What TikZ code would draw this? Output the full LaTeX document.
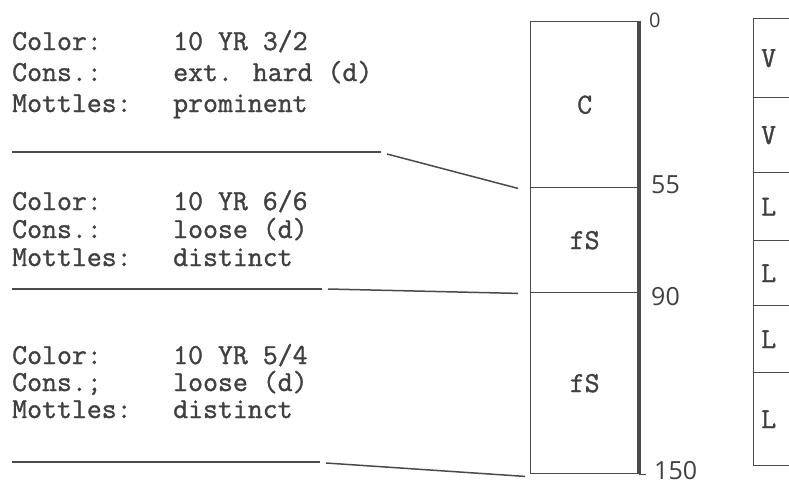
\documentclass[tikz,border=0pt]{standalone}
\usepackage{fontspec}
\newfontfamily\numfont{Open Sans}
\newfontfamily\twfont[RawFeature={embolden=1.2}]{Latin Modern Mono}
\definecolor{ink}{HTML}{404040}
\definecolor{lineink}{HTML}{4A4A4A}
\begin{document}
\begin{tikzpicture}[x=1pt,y=-1pt,
  tw/.style={font=\twfont\fontsize{29}{31}\selectfont, text=ink, inner sep=0pt, anchor=base west},
  num/.style={font=\numfont\fontsize{25}{28}\selectfont, text=ink, inner sep=0pt, anchor=west},
  layer/.style={draw=lineink, line width=1.4pt, minimum width=108pt, anchor=north west, inner sep=0pt,
     font=\twfont\fontsize{29}{31}\selectfont, text=ink},
  rowbox/.style={draw=lineink, line width=1.4pt, minimum width=70pt, anchor=north west, inner sep=0pt},
  rowtext/.style={font=\twfont\fontsize{29}{31}\selectfont, text=ink, inner sep=0pt, anchor=west},
  rule/.style={draw=lineink, line width=1.5pt},
  conn/.style={draw=lineink, line width=1.5pt}
]
\useasboundingbox[fill=white] (0,0) rectangle (789,485);

% text block 1
\node[tw] (a1) at (12,50) {Color:};
\node[tw] (a2) at (12,81) {Cons.:};
\node[tw] (a3) at (12,112) {Mottles:};
\node[tw] (av1) at (173,50) {10 YR 3/2};
\node[tw] (av2) at (173,81) {ext. hard (d)};
\node[tw] (av3) at (173,112) {prominent};
% text block 2
\node[tw] (b1) at (12,210) {Color:};
\node[tw] (b2) at (12,238) {Cons.:};
\node[tw] (b3) at (12,266) {Mottles:};
\node[tw] (bv1) at (173,210) {10 YR 6/6};
\node[tw] (bv2) at (173,238) {loose (d)};
\node[tw] (bv3) at (173,266) {distinct};
% text block 3
\node[tw] (c1) at (12,364) {Color:};
\node[tw] (c2) at (12,391) {Cons.;};
\node[tw] (c3) at (12,418) {Mottles:};
\node[tw] (cv1) at (173,364) {10 YR 5/4};
\node[tw] (cv2) at (173,391) {loose (d)};
\node[tw] (cv3) at (173,418) {distinct};

% profile column
\node[layer, minimum height=166pt] (hC) at (530,21) {C};
\node[layer, minimum height=105pt] (hfSa) at (530,187) {fS};
\node[layer, minimum height=181pt] (hfSb) at (530,292) {fS};
\draw[lineink, line width=4pt] (hC.north east) -- (hfSb.south east);
\coordinate (bx) at ([xshift=7]hfSb.south east);
\draw[lineink, line width=1.4pt] (hfSb.south east) -- (bx);

% depth labels
\node[num, font=\numfont\fontsize{20}{22}\selectfont] (d0) at (649,20) {0};
\node[num] (d55) at (651,185) {55};
\node[num] (d90) at (651,297) {90};
\node[num] (d150) at (654,471) {150};

% right column
\node[rowbox, minimum height=79pt] (r1) at (753,18) {};
\node[rowbox, minimum height=75pt] (r2) at (753,97) {};
\node[rowbox, minimum height=68pt] (r3) at (753,172) {};
\node[rowbox, minimum height=65pt] (r4) at (753,240) {};
\node[rowbox, minimum height=67pt] (r5) at (753,305) {};
\node[rowbox, minimum height=93pt] (r6) at (753,372) {};
\node[rowtext] (t1) at ([xshift=8]r1.west) {V};
\node[rowtext] (t2) at ([xshift=8]r2.west) {V};
\node[rowtext] (t3) at ([xshift=8]r3.west) {L};
\node[rowtext] (t4) at ([xshift=8]r4.west) {L};
\node[rowtext] (t5) at ([xshift=8]r5.west) {L};
\node[rowtext] (t6) at ([xshift=8]r6.west) {L};

% separators and connectors
\coordinate (s1a) at (12,152);
\coordinate (s1b) at (381,152);
\coordinate (s1c) at (387,154);
\coordinate (s2a) at (12,289);
\coordinate (s2b) at (322,289);
\coordinate (s2c) at (328,289);
\coordinate (s3a) at (12,462);
\coordinate (s3b) at (320,462);
\coordinate (s3c) at (326,463);
\path[rule] (s1a) -- (s1b);
\path[rule] (s2a) -- (s2b);
\path[rule] (s3a) -- (s3b);
\path[conn] (s1c) -- ([xshift=-12]hC.south west);
\path[conn] (s2c) -- ([xshift=-12]hfSa.south west);
\path[conn] (s3c) -- ([xshift=-5,yshift=-2]hfSb.south west);
\end{tikzpicture}
\end{document}
